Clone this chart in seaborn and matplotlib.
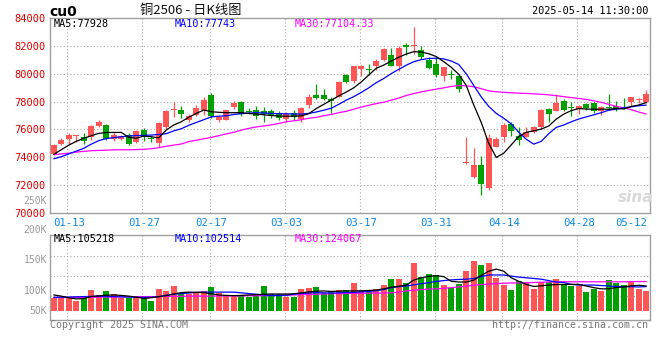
import numpy as np
import pandas as pd
import matplotlib
matplotlib.use("Agg")
import matplotlib.pyplot as plt
import seaborn as sns

# ---------------- data ----------------
dates = [
    "2025-01-09", "2025-01-10", "2025-01-13", "2025-01-14", "2025-01-15", "2025-01-16", "2025-01-17",
    "2025-01-20", "2025-01-21", "2025-01-22", "2025-01-23", "2025-01-24", "2025-01-27",
    "2025-02-05", "2025-02-06", "2025-02-07", "2025-02-10", "2025-02-11", "2025-02-12", "2025-02-13",
    "2025-02-14", "2025-02-17", "2025-02-18", "2025-02-19", "2025-02-20", "2025-02-21", "2025-02-24",
    "2025-02-25", "2025-02-26", "2025-02-27", "2025-02-28",
    "2025-03-03", "2025-03-04", "2025-03-05", "2025-03-06", "2025-03-07", "2025-03-10", "2025-03-11",
    "2025-03-12", "2025-03-13", "2025-03-14", "2025-03-17", "2025-03-18", "2025-03-19", "2025-03-20",
    "2025-03-21", "2025-03-24", "2025-03-25", "2025-03-26", "2025-03-27", "2025-03-28", "2025-03-31",
    "2025-04-01", "2025-04-02", "2025-04-03", "2025-04-07", "2025-04-08", "2025-04-09", "2025-04-10",
    "2025-04-11", "2025-04-14", "2025-04-15", "2025-04-16", "2025-04-17", "2025-04-18", "2025-04-21",
    "2025-04-22", "2025-04-23", "2025-04-24", "2025-04-25", "2025-04-28", "2025-04-29", "2025-04-30",
    "2025-05-06", "2025-05-07", "2025-05-08", "2025-05-09", "2025-05-12", "2025-05-13", "2025-05-14",
]

open_ = [74250, 74980, 75340, 75500, 75440, 75440, 76270, 76320, 75300, 75340,
         75620, 75100, 75960, 75370, 75050, 76150, 77360, 77390, 76680, 77060,
         77400, 78480, 76680, 76700, 77620, 77990, 77350, 77400, 77320, 77320,
         77150, 76760, 77200, 76730, 77750, 78460, 78460, 78150, 78350, 79900,
         79450, 80340, 80300, 80520, 81000, 81360, 80540, 82070, 81960, 81710,
         81000, 80690, 79860, 79950, 79860, 73600, 72600, 73430, 71790, 74760,
         75480, 76380, 75550, 75480, 75840, 76150, 77450, 77340, 78050, 77550,
         77460, 77810, 77930, 77340, 77600, 77690, 77590, 78000, 78140, 78000]
high = [74950, 75420, 75720, 75620, 75720, 76300, 76680, 76360, 75800, 75600,
        75720, 75960, 76100, 75560, 76560, 77370, 77960, 77680, 77100, 77750,
        78340, 78630, 76960, 77420, 78050, 78030, 77570, 77690, 77580, 77440,
        77300, 77280, 77390, 77590, 78540, 79250, 78870, 78300, 79490, 79970,
        80570, 80600, 80710, 81050, 81830, 81830, 82000, 82190, 83350, 82000,
        81190, 81190, 80500, 80290, 79930, 75480, 74640, 74100, 75710, 75430,
        76430, 76550, 76190, 76190, 76260, 77450, 77570, 78520, 78170, 78000,
        77760, 77860, 78000, 77690, 78570, 78050, 78240, 78300, 78240, 78810]
low = [74150, 74880, 74950, 75100, 74960, 75250, 76180, 75250, 75150, 75250,
       74860, 75040, 75150, 75100, 74780, 76040, 76920, 76820, 76530, 76960,
       77050, 76850, 76560, 76680, 77500, 76990, 77100, 76750, 76500, 76800,
       76650, 76550, 76680, 76560, 77560, 78200, 78100, 77200, 78300, 79300,
       79330, 79810, 79930, 80240, 80880, 80520, 80170, 81360, 81380, 81050,
       80330, 79760, 79450, 79620, 78670, 73560, 72550, 71310, 71670, 74710,
       75070, 75550, 74900, 75430, 75740, 76020, 76570, 77290, 77330, 76980,
       77100, 77380, 77210, 77050, 77380, 77330, 77450, 77690, 77930, 77930]
close = [74880, 75260, 75600, 75540, 75200, 76250, 76530, 75320, 75580, 75530,
         74940, 75880, 75440, 75300, 76480, 77300, 77400, 77130, 76960, 77530,
         78100, 76980, 76870, 77400, 77880, 77090, 77260, 76940, 77090, 77040,
         76800, 77080, 76920, 77510, 78300, 78280, 78180, 78040, 79420, 79420,
         80520, 80570, 80260, 80930, 81760, 80570, 81830, 81900, 82010, 81190,
         80400, 79930, 80480, 79910, 78900, 73640, 73430, 72070, 75360, 75310,
         76330, 75900, 75260, 75830, 76190, 77380, 77100, 77930, 77380, 77510,
         77690, 77570, 77340, 77640, 77560, 77460, 77550, 78290, 78180, 78570]

ma5 = [74220, 74550, 74880, 75150, 75370, 75550, 75720, 75780, 75790, 75790,
       75440, 75370, 75530, 75480, 75400, 75960, 76320, 76550, 76870, 77150,
       77390, 77270, 77230, 77200, 77200, 77200, 77150, 77100, 77050, 77000,
       76960, 76950, 76950, 76970, 77130, 77500, 77800, 78100, 78400, 78680,
       78980, 79400, 79900, 80380, 80610, 80900, 81170, 81400, 81570, 81540,
       81420, 81220, 80850, 80450, 79950, 79150, 77750, 76500, 75000, 74000,
       74300, 74900, 75500, 75800, 75900, 76030, 76250, 76740, 77100, 77350,
       77500, 77460, 77450, 77450, 77450, 77500, 77470, 77650, 77750, 77928]
ma10 = [73900, 74050, 74250, 74450, 74650, 74950, 75200, 75350, 75420, 75480,
        75530, 75560, 75580, 75600, 75640, 75700, 75900, 76050, 76300, 76500,
        76700, 76900, 76950, 76980, 77070, 77130, 77170, 77200, 77180, 77150,
        77130, 77120, 77110, 77100, 77150, 77250, 77380, 77520, 77800, 78100,
        78350, 78650, 78980, 79350, 79650, 80000, 80300, 80600, 80850, 81000,
        81080, 81100, 81050, 80900, 80650, 79980, 79150, 78330, 77650, 77150,
        76800, 76400, 75800, 75300, 74950, 75150, 75700, 76150, 76320, 76550,
        76750, 76900, 77050, 77200, 77380, 77450, 77550, 77620, 77700, 77743]
ma30 = [74200, 74250, 74300, 74380, 74430, 74480, 74500, 74520, 74540, 74550,
        74550, 74560, 74580, 74620, 74700, 74800, 74880, 74960, 75130, 75230,
        75330, 75430, 75560, 75680, 75800, 75950, 76080, 76180, 76250, 76330,
        76430, 76550, 76620, 76700, 76800, 76870, 76980, 77080, 77200, 77300,
        77450, 77600, 77730, 77850, 77950, 78100, 78250, 78430, 78570, 78690,
        78790, 78890, 78980, 79080, 79140, 79120, 79060, 78920, 78760, 78700,
        78660, 78630, 78600, 78580, 78550, 78520, 78480, 78420, 78350, 78280,
        78220, 78150, 78050, 77940, 77800, 77660, 77550, 77420, 77250, 77104.33]

volume = [55300, 58100, 55300, 42500, 52500, 87900, 66600, 83700, 72300, 55300,
          52500, 59600, 52500, 41100, 92200, 85100, 104900, 73700, 70900, 73700,
          83700, 100700, 73700, 62400, 62400, 62400, 59600, 70900, 104900, 70900,
          69500, 59600, 59600, 92200, 96400, 100700, 76600, 85100, 87900, 87900,
          119100, 83700, 85100, 92200, 109200, 134700, 134700, 117700, 204200, 141800,
          156000, 151700, 109200, 95000, 113400, 168700, 212700, 194300, 204200, 140400,
          109200, 87900, 126200, 116300, 92200, 120500, 120500, 134700, 113400, 106400,
          106400, 80800, 92200, 85100, 130500, 119100, 109200, 123400, 92200, 85100]
vol_ma5 = [67000, 62000, 55000, 50000, 52000, 60000, 63000, 66000, 67000, 65000,
           62000, 58000, 52000, 55000, 60000, 64000, 71000, 77000, 79000, 78000,
           77000, 72000, 67000, 65000, 64000, 65000, 67000, 68000, 70000, 71000,
           71000, 71000, 72000, 76000, 80000, 83000, 84000, 82000, 83000, 84000,
           84000, 85000, 86000, 88000, 93000, 100000, 104000, 109000, 130000, 140000,
           146000, 149000, 145000, 125000, 122000, 122000, 130000, 150000, 168000, 177000,
           168000, 140000, 125000, 112000, 103000, 106000, 109000, 111000, 112000, 112000,
           112000, 105000, 98000, 93000, 93000, 99000, 101000, 106000, 108000, 105218]
vol_ma10 = [57000, 58000, 58000, 59000, 60000, 61000, 62000, 61000, 60000, 59000,
            58000, 57000, 57000, 57000, 60000, 66000, 70000, 73000, 75000, 78000,
            79000, 79000, 79000, 79000, 79000, 76000, 73000, 70000, 67000, 65000,
            64000, 66000, 70000, 73000, 75000, 77000, 76000, 75000, 76000, 77000,
            78000, 80000, 82000, 85000, 90000, 98000, 102000, 105000, 110000, 115000,
            119000, 125000, 128000, 131000, 133000, 134000, 137000, 145000, 152000, 152000,
            152000, 147000, 143000, 140000, 137000, 134000, 128000, 122000, 120000, 112000,
            109000, 109000, 109000, 107000, 105000, 103000, 102000, 102000, 101000, 102514]
vol_ma30 = [56000, 56000, 56000, 57000, 57000, 57000, 58000, 58000, 58000, 59000,
            59000, 59000, 60000, 60000, 60000, 61000, 61000, 61000, 62000, 62000,
            62000, 62000, 63000, 63000, 63000, 63000, 64000, 64000, 64000, 65000,
            66000, 66000, 67000, 68000, 69000, 70000, 71000, 72000, 73000, 73000,
            74000, 74000, 75000, 75000, 75000, 76000, 79000, 84000, 87000, 90000,
            92000, 93000, 95000, 98000, 101000, 105000, 108000, 111000, 113000, 115000,
            117000, 118000, 118000, 119000, 120000, 121000, 122000, 123000, 123000, 123000,
            123000, 123000, 123000, 123000, 123000, 123000, 123000, 124000, 124000, 124067]

tick_dates = ["01-13", "01-27", "02-17", "03-03", "03-17", "03-31", "04-14", "04-28", "05-12"]
price_ticks = [70000, 72000, 74000, 76000, 78000, 80000, 82000, 84000]

# ---------------- style ----------------
sns.set_style("white")
plt.rcParams["font.family"] = ["DejaVu Sans Mono", "Noto Sans CJK SC"]

UP = "#ff5555"
DN = "#00a000"
GRID = "#aaaaaa"
SPINE = "#a0a0a0"
C5, C10, C30 = "#000000", "#0000ff", "#ff00ff"

W, H = 660, 360
fig = plt.figure(figsize=(W / 100, H / 100), dpi=100)
fig.patch.set_facecolor("white")


def fx(px):
    return px / W


def fy(py):
    return 1 - py / H


ax = fig.add_axes([fx(50), fy(213.3), 600 / W, (213.3 - 17.7) / H])
axv = fig.add_axes([fx(50), fy(320), 600 / W, 85 / H])

n = len(dates)
x = np.arange(n)
o = np.array(open_, float)
c = np.array(close, float)
hi = np.array(high, float)
lo = np.array(low, float)
up = c >= o
cols = np.where(up, UP, DN)

for a in (ax, axv):
    a.set_xlim(-0.5, n - 0.5)
    for s in a.spines.values():
        s.set_color(SPINE)
        s.set_linewidth(1.0)
    a.set_facecolor("white")

tick_pos = [dates.index("2025-" + d) for d in tick_dates]

# grid
for p in tick_pos[:-1]:
    ax.axvline(p - 0.2, color=GRID, lw=0.8, ls=(0, (1, 2)), zorder=0)
    axv.axvline(p - 0.2, color=GRID, lw=0.8, ls=(0, (1, 2)), zorder=0)
for v in price_ticks[1:-1]:
    ax.axhline(v, color=GRID, lw=0.8, ls=(0, (1, 2)), zorder=0)

# candles
ax.vlines(x, lo, hi, colors=cols, lw=0.9, zorder=2)
body_lo = np.minimum(o, c)
body_h = np.maximum(np.abs(c - o), 70)
ax.bar(x, body_h, bottom=body_lo, width=0.78, color=cols, linewidth=0, zorder=3)

# MA lines (price)
ma_df = pd.DataFrame({
    "x": np.tile(x, 3),
    "value": np.concatenate([ma30, ma10, ma5]),
    "series": ["MA30"] * n + ["MA10"] * n + ["MA5"] * n,
})
sns.lineplot(data=ma_df, x="x", y="value", hue="series", hue_order=["MA30", "MA10", "MA5"],
             palette={"MA5": C5, "MA10": C10, "MA30": C30}, ax=ax, legend=False,
             linewidth=0.9, zorder=4, estimator=None)

ax.set_ylim(70000, 84000)
ax.set_yticks(price_ticks)
ax.set_yticklabels([str(v) for v in price_ticks])
ax.tick_params(axis="y", length=0, pad=3, labelsize=7.5, labelcolor="#dd0000")
ax.set_xticks(tick_pos)
ax.set_xticklabels(tick_dates)
ax.tick_params(axis="x", length=0, pad=3.5, labelsize=7.7, labelcolor="#0a8ae6")
ax.set_xlabel("")
ax.set_ylabel("")

# volume
vol = np.array(volume, float)
axv.bar(x, vol, width=0.76, color=cols, linewidth=0, zorder=2)
vdf = pd.DataFrame({
    "x": np.tile(x, 3),
    "value": np.concatenate([vol_ma30, vol_ma10, vol_ma5]),
    "series": ["MA30"] * n + ["MA10"] * n + ["MA5"] * n,
})
sns.lineplot(data=vdf, x="x", y="value", hue="series", hue_order=["MA30", "MA10", "MA5"],
             palette={"MA5": C5, "MA10": C10, "MA30": C30}, ax=axv, legend=False,
             linewidth=0.9, zorder=4, estimator=None)
K_PER_PX = 4254.0
BASE_PX = 310.7
axv.set_ylim(-(320 - BASE_PX) * K_PER_PX, (BASE_PX - 235) * K_PER_PX)
for gp in (255.7, 275.7, 295.7):
    axv.axhline((BASE_PX - gp) * K_PER_PX, color=GRID, lw=0.8, ls=(0, (1, 2)), zorder=0)
axv.set_xticks([])
axv.set_yticks([])
axv.set_xlabel("")
axv.set_ylabel("")

# volume axis labels
for lab, py in (("200K", 230), ("150K", 260), ("100K", 290.5), ("50K", 310.7)):
    fig.text(fx(47), fy(py), lab, ha="right", va="center", fontsize=7, color="#999999")
fig.text(fx(47), fy(200.7), "250K", ha="right", va="center", fontsize=7, color="#999999")

# header texts
fig.text(fx(49), fy(11.5), "cu0", ha="left", va="center", fontsize=10, fontweight="bold",
         color="black", family="DejaVu Sans")
fig.text(fx(140), fy(10.5), "铜2506 - 日K线图", ha="left", va="center", fontsize=9.5,
         color="#111111", family=["Noto Sans CJK SC", "DejaVu Sans"])
fig.text(fx(648), fy(11), "2025-05-14 11:30:00", ha="right", va="center", fontsize=7.4, color="black")

fig.text(fx(54), fy(23.7), "MA5:77928", ha="left", va="center", fontsize=7.3, color=C5)
fig.text(fx(175), fy(23.7), "MA10:77743", ha="left", va="center", fontsize=7.3, color=C10)
fig.text(fx(295), fy(23.7), "MA30:77104.33", ha="left", va="center", fontsize=7.3, color=C30)

fig.text(fx(54), fy(238.5), "MA5:105218", ha="left", va="center", fontsize=7.3, color=C5)
fig.text(fx(175), fy(238.5), "MA10:102514", ha="left", va="center", fontsize=7.3, color=C10)
fig.text(fx(295), fy(238.5), "MA30:124067", ha="left", va="center", fontsize=7.3, color=C30)

fig.text(fx(50), fy(324.5), "Copyright 2025 SINA.COM", ha="left", va="center", fontsize=7.2, color="#777777")
fig.text(fx(648), fy(324.5), "http://finance.sina.com.cn", ha="right", va="center", fontsize=7.2,
         color="#777777")

# watermark
fig.text(fx(636), fy(197), "sina", ha="center", va="center", fontsize=11, style="italic",
         fontweight="bold", color="#d9d9d9", family="DejaVu Sans", zorder=1)

fig.savefig("out.png", dpi=100, facecolor="white")
